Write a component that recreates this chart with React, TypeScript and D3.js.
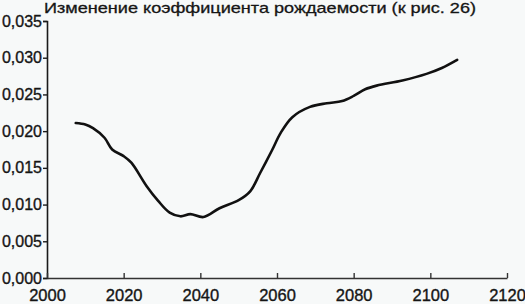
import React, { useEffect, useRef } from 'react';
import * as d3 from 'd3';

// birth rate curve
const years = [2007.5, 2010, 2012, 2015, 2017, 2020, 2022, 2026, 2029, 2032, 2034.8, 2037.4, 2040.8, 2045, 2050, 2053, 2055.6, 2058.7, 2061, 2064, 2068.6, 2073, 2077, 2080, 2083, 2086, 2092.7, 2099, 2103, 2107];
const rates = [0.0211, 0.0209, 0.0204, 0.0191, 0.0175, 0.0166, 0.0157, 0.0125, 0.0105, 0.0089, 0.0084, 0.0087, 0.0083, 0.0095, 0.0106, 0.0118, 0.0143, 0.0174, 0.0198, 0.0219, 0.0233, 0.0238, 0.0241, 0.0248, 0.0257, 0.0262, 0.0269, 0.0278, 0.0286, 0.0297];

const xTicks = [2000, 2020, 2040, 2060, 2080, 2100, 2120];
const yTicks = [0, 0.005, 0.01, 0.015, 0.02, 0.025, 0.03, 0.035];
const title = 'Изменение коэффициента рождаемости (к рис. 26)';

const W = 525;
const H = 304;

const App: React.FC = () => {
  const svgRef = useRef<SVGSVGElement>(null);

  useEffect(() => {
    if (!svgRef.current) return;
    const svg = d3.select(svgRef.current);
    svg.selectAll('*').remove();

    const x = d3.scaleLinear().domain([2000, 2120]).range([47, 507]);
    const y = d3.scaleLinear().domain([0, 0.035]).range([278, 21]);
    const font = '"Liberation Sans", Arial, sans-serif';
    const ink = '#151515';

    svg.append('rect').attr('width', W).attr('height', H).attr('fill', '#f7f9f9');

    svg
      .append('text')
      .attr('x', 44)
      .attr('y', 13)
      .attr('font-family', font)
      .attr('font-size', 15)
      .attr('textLength', 432)
      .attr('lengthAdjust', 'spacingAndGlyphs')
      .attr('fill', ink)
      .attr('stroke', ink)
      .attr('stroke-width', 0.3)
      .text(title);

    // y axis
    const yAxis = svg
      .append('g')
      .attr('transform', `translate(${x(2000)},0)`)
      .call(
        d3
          .axisLeft(y)
          .tickValues(yTicks)
          .tickSize(4)
          .tickPadding(1)
          .tickFormat((d) => d3.format('.3f')(d as number).replace('.', ','))
      );
    yAxis.select('.domain').attr('stroke', '#1a1a1a').attr('stroke-width', 1.6);
    yAxis.selectAll('.tick line').attr('stroke', '#1a1a1a').attr('stroke-width', 1.4);
    yAxis
      .selectAll('.tick text')
      .attr('font-family', font)
      .attr('font-size', 16)
      .attr('fill', ink)
      .attr('stroke', ink)
      .attr('stroke-width', 0.35);

    // x axis, ticks pointing inward
    const xAxis = svg
      .append('g')
      .attr('transform', `translate(0,${y(0)})`)
      .call(d3.axisBottom(x).tickValues(xTicks).tickSizeInner(-5).tickSizeOuter(0).tickPadding(11).tickFormat(d3.format('d')));
    xAxis.select('.domain').attr('stroke', '#333').attr('stroke-width', 1.6);
    xAxis.selectAll('.tick line').attr('stroke', '#333').attr('stroke-width', 1.4);
    xAxis
      .selectAll('.tick text')
      .attr('font-family', font)
      .attr('font-size', 16.5)
      .attr('fill', ink)
      .attr('stroke', ink)
      .attr('stroke-width', 0.35);

    const pts: Array<[number, number]> = years.map((yr, i) => [yr, rates[i]]);
    const line = d3
      .line<[number, number]>()
      .x((d) => x(d[0]))
      .y((d) => y(d[1]))
      .curve(d3.curveCatmullRom.alpha(0.5));

    svg
      .append('path')
      .attr('d', line(pts))
      .attr('fill', 'none')
      .attr('stroke', '#111')
      .attr('stroke-width', 2.6)
      .attr('stroke-linejoin', 'round')
      .attr('stroke-linecap', 'round');
  }, []);

  return (
    <svg
      ref={svgRef}
      width={W}
      height={H}
      style={{ position: 'absolute', top: 0, left: 0 }}
    />
  );
};

export default App;
